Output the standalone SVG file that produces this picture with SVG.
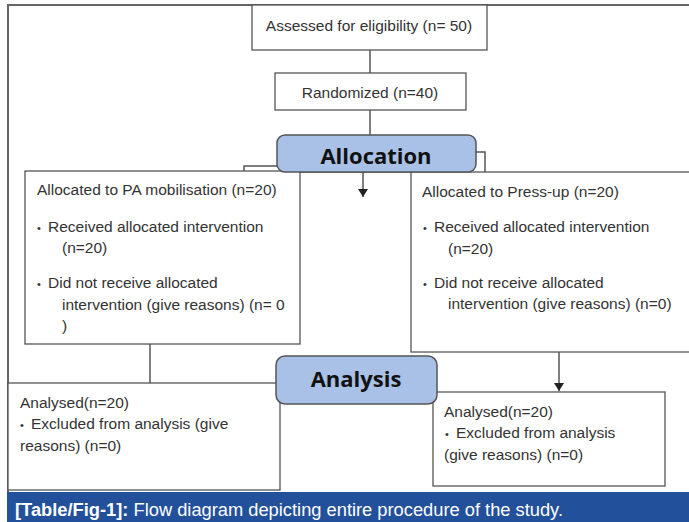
<svg xmlns="http://www.w3.org/2000/svg" width="689" height="522" viewBox="0 0 689 522">
<style>
.box{fill:#fff;stroke:#555;stroke-width:1.3}
.hdr{fill:#a9c1e6;stroke:#555;stroke-width:1.5}
.ln{stroke:#555;stroke-width:1.5;fill:none}
.frame{stroke:#666;stroke-width:2;fill:none}
.t{font-family:"Liberation Sans",Arial,sans-serif;font-size:15.5px;fill:#333}
.b{font-size:11px}
.h{font-family:"Open Sans","Liberation Sans",sans-serif;font-size:22px;font-weight:bold;fill:#111;text-anchor:middle}
.cap{font-family:"Liberation Sans",Arial,sans-serif;font-size:18.3px;fill:#fff}
</style>
<defs>
<marker id="arr" markerWidth="10" markerHeight="10" refX="8" refY="5" orient="auto" markerUnits="userSpaceOnUse">
<path d="M0,0 L8,5 L0,10 Z" fill="#222"/>
</marker>
</defs>
<rect width="689" height="522" fill="#fff"/>
<g id="frame">
<path class="frame" d="M8,492 L8,5 L689,5"/>
</g>
<g id="connectors">
<line class="ln" x1="370" y1="50" x2="370" y2="73"/>
<line class="ln" x1="370" y1="110" x2="370" y2="135"/>
<path class="ln" d="M244,172 L244,166 L277,166"/>
<path class="ln" d="M476,152 L485,152 L485,172"/>
<line class="ln" x1="300" y1="172" x2="411" y2="172"/>
<line class="ln" x1="363" y1="172" x2="363" y2="197" marker-end="url(#arr)"/>
<line class="ln" x1="150" y1="344" x2="150" y2="383"/>
<line class="ln" x1="559" y1="352" x2="559" y2="391" marker-end="url(#arr)"/>
</g>
<g id="assessed">
<rect class="box" x="252" y="5" width="235" height="45"/>
<text class="t" x="369" y="31" text-anchor="middle">Assessed for eligibility (n= 50)</text>
</g>
<g id="randomized">
<rect class="box" x="275" y="73" width="191" height="37"/>
<text class="t" x="370" y="98" text-anchor="middle">Randomized (n=40)</text>
</g>
<g id="allocated-pa">
<rect class="box" x="25" y="171" width="275" height="173"/>
<text class="t" x="37" y="195">Allocated to PA mobilisation (n=20)</text>
<text class="t" y="232"><tspan class="b" x="37">•</tspan><tspan x="48">Received allocated intervention</tspan></text>
<text class="t" x="62" y="253">(n=20)</text>
<text class="t" y="288"><tspan class="b" x="37">•</tspan><tspan x="48">Did not receive allocated</tspan></text>
<text class="t" x="62" y="310">intervention (give reasons) (n= 0</text>
<text class="t" x="62" y="331">)</text>
</g>
<g id="allocated-press">
<rect class="box" x="411" y="172" width="290" height="180"/>
<text class="t" x="422" y="197">Allocated to Press-up (n=20)</text>
<text class="t" y="232"><tspan class="b" x="423">•</tspan><tspan x="434">Received allocated intervention</tspan></text>
<text class="t" x="448" y="254">(n=20)</text>
<text class="t" y="288"><tspan class="b" x="423">•</tspan><tspan x="434">Did not receive allocated</tspan></text>
<text class="t" x="448" y="309">intervention (give reasons) (n=0)</text>
</g>
<g id="allocation">
<rect class="hdr" x="277" y="135" width="199" height="37" rx="8"/>
<text class="h" x="376" y="164">Allocation</text>
</g>
<g id="analysed-pa">
<rect class="box" x="8" y="383" width="272" height="107"/>
<text class="t" x="20" y="408">Analysed(n=20)</text>
<text class="t" y="429"><tspan class="b" x="20">•</tspan><tspan x="31">Excluded from analysis (give</tspan></text>
<text class="t" x="20" y="451">reasons) (n=0)</text>
</g>
<g id="analysed-press">
<rect class="box" x="433" y="392" width="232" height="94"/>
<text class="t" x="444" y="417">Analysed(n=20)</text>
<text class="t" y="438"><tspan class="b" x="445">•</tspan><tspan x="456">Excluded from analysis</tspan></text>
<text class="t" x="444" y="460">(give reasons) (n=0)</text>
</g>
<g id="analysis">
<rect class="hdr" x="276" y="356" width="161" height="48" rx="9"/>
<text class="h" x="356" y="387">Analysis</text>
</g>
<g id="caption">
<rect x="7" y="492" width="682" height="30" fill="#22509b"/>
<text class="cap" x="15" y="516"><tspan font-weight="bold">[Table/Fig-1]:</tspan> Flow diagram depicting entire procedure of the study.</text>
</g>
</svg>
